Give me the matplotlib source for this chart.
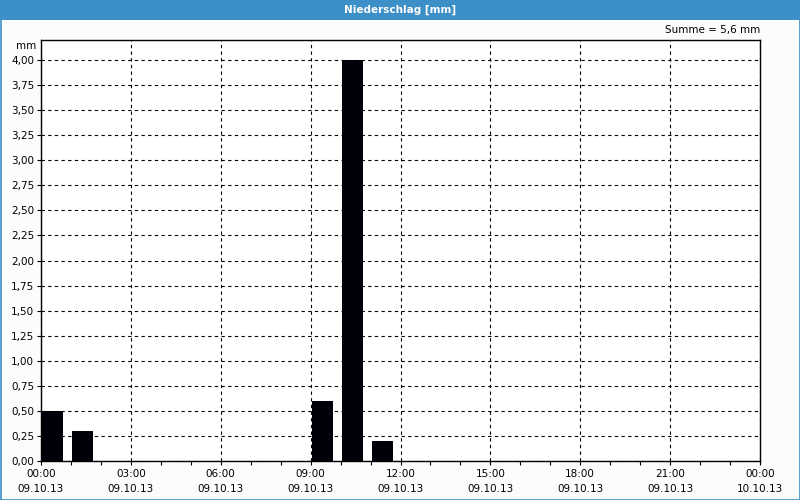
import numpy as np
import matplotlib
matplotlib.use("Agg")
import matplotlib.pyplot as plt
import matplotlib.patches as patches
from matplotlib.ticker import MultipleLocator, FixedLocator

# hourly precipitation, 09.10.13
hours = [0, 1, 9, 10, 11]
rain_mm = [0.5, 0.3, 0.6, 4.0, 0.2]
tick_hours = [0, 3, 6, 9, 12, 15, 18, 21, 24]
tick_labels = ["00:00\n09.10.13", "03:00\n09.10.13", "06:00\n09.10.13", "09:00\n09.10.13",
               "12:00\n09.10.13", "15:00\n09.10.13", "18:00\n09.10.13", "21:00\n09.10.13",
               "00:00\n10.10.13"]
y_ticks = np.arange(0, 4.01, 0.25)

BLUE = "#3c8fc7"
BG = "#fbfdfd"

plt.rcParams['font.family'] = ['DejaVu Sans']
fig = plt.figure(figsize=(8, 5), dpi=100, facecolor=BG)

# title bar and border
fig.patches.append(patches.Rectangle((0, 480/500), 1, 20/500, transform=fig.transFigure,
                                     facecolor=BLUE, edgecolor="none", zorder=0))
fig.patches.append(patches.Rectangle((0.5/800, 0.5/500), 799/800, 499/500, transform=fig.transFigure,
                                     facecolor="none", edgecolor=BLUE, lw=1.2, zorder=0))
fig.text(0.5, 490/500, "Niederschlag [mm]", color="white", fontsize=7.5, fontweight="bold",
         ha="center", va="center")

ax = fig.add_axes([41/800, 39/500, 719/800, 421/500])
ax.set_facecolor("white")
ax.bar([h + 0.04 for h in hours], rain_mm, width=0.7, align="edge", color="#000008", zorder=3)

ax.set_xlim(0, 24)
ax.set_ylim(0, 4.2)
ax.xaxis.set_major_locator(FixedLocator(tick_hours))
ax.xaxis.set_minor_locator(MultipleLocator(1))
ax.set_xticklabels(tick_labels, fontsize=7.5, linespacing=1.6)
ax.set_yticks(y_ticks)
ax.set_yticklabels([f"{v:.2f}".replace(".", ",") for v in y_ticks], fontsize=7.5)
ax.tick_params(axis="both", which="major", length=3, width=0.8, color="black", pad=2)
ax.tick_params(axis="x", which="minor", length=3, width=0.8)
ax.tick_params(axis="x", pad=3)
ax.grid(True, which="major", color="black", linestyle=(0, (3, 3)), linewidth=0.8, zorder=1)
for s in ax.spines.values():
    s.set_linewidth(1.0)

ax.text(-5/719, 415/421, "mm", transform=ax.transAxes, ha="right", va="center", fontsize=7.5)
ax.text(1.0, 1.012, "Summe = 5,6 mm", transform=ax.transAxes, ha="right", va="bottom", fontsize=7.5)

fig.savefig("out.png", dpi=100, facecolor=BG)
